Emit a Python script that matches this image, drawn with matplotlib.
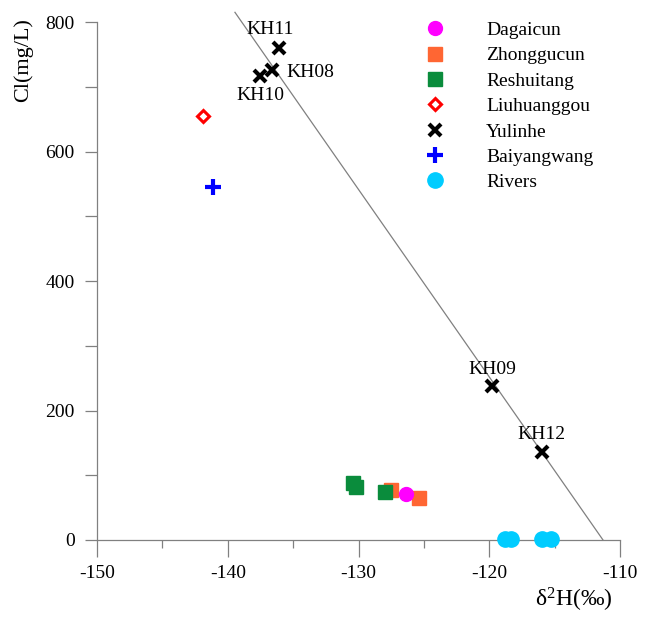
import matplotlib
matplotlib.use("Agg")
import matplotlib.pyplot as plt
from matplotlib.ticker import MultipleLocator

plt.rcParams['font.family'] = ['Liberation Serif', 'DejaVu Serif']
plt.rcParams['mathtext.fontset'] = 'custom'
plt.rcParams['mathtext.rm'] = 'Liberation Serif'
plt.rcParams['mathtext.it'] = 'Liberation Serif:italic'
plt.rcParams['axes.unicode_minus'] = False

# data: d2H (permil), Cl (mg/L)
dagaicun_x = [-126.4]
dagaicun_y = [71]
zhonggucun_x = [-127.5, -125.4]
zhonggucun_y = [77, 65]
reshuitang_x = [-130.4, -130.2, -128.0]
reshuitang_y = [88, 82, 74]
liuhuanggou_x = [-141.9]
liuhuanggou_y = [655]
yulinhe_x = [-136.1, -136.6, -137.5, -119.8, -116.0]
yulinhe_y = [760, 726, 717, 238, 136]
yulinhe_names = ['KH11', 'KH08', 'KH10', 'KH09', 'KH12']
baiyangwang_x = [-141.1]
baiyangwang_y = [545]
rivers_x = [-118.8, -118.3, -116.0, -115.3]
rivers_y = [1, 1, 1, 1]

# mixing line end points
line_x = [-139.45, -111.3]
line_y = [815, 0]

fig = plt.figure(figsize=(6.48, 6.17), dpi=100)
ax = fig.add_axes([0.1497, 0.1248, 0.8071, 0.8395])

ax.plot(line_x, line_y, color='#808080', lw=0.9, clip_on=False, zorder=1)

ax.plot(dagaicun_x, dagaicun_y, 'o', color='#FF00FF', ms=10, ls='none', label='Dagaicun', zorder=4)
ax.plot(zhonggucun_x, zhonggucun_y, 's', color='#FF6633', ms=9.5, ls='none', label='Zhonggucun', zorder=3)
ax.plot(reshuitang_x, reshuitang_y, 's', color='#0A8C3C', ms=9.5, ls='none', label='Reshuitang', zorder=3)
ax.plot(liuhuanggou_x, liuhuanggou_y, 'D', mfc='white', mec='#FF0000', mew=2.2, ms=6.5, ls='none',
        label='Liuhuanggou', zorder=3)
ax.plot(yulinhe_x, yulinhe_y, 'x', color='black', mew=3, ms=9, ls='none', label='Yulinhe', zorder=3)
ax.plot(baiyangwang_x, baiyangwang_y, '+', color='#0000FF', mew=3, ms=11, ls='none', label='Baiyangwang', zorder=3)
ax.plot(rivers_x, rivers_y, 'o', color='#00CCFF', ms=11, ls='none', label='Rivers', zorder=3, clip_on=False)

label_offsets = {'KH11': (-6, 13, 'center'), 'KH08': (10, -2, 'left'), 'KH10': (0, -14, 'center'),
                 'KH09': (0, 12, 'center'), 'KH12': (0, 12.5, 'center')}
for name, x, y in zip(yulinhe_names, yulinhe_x, yulinhe_y):
    dx, dy, ha = label_offsets[name]
    ax.annotate(name, (x, y), xytext=(dx, dy), textcoords='offset points',
                ha=ha, va='center', fontsize=14)

ax.set_xlim(-150, -110)
ax.set_ylim(0, 800)
ax.xaxis.set_major_locator(MultipleLocator(10))
ax.xaxis.set_minor_locator(MultipleLocator(5))
ax.yaxis.set_major_locator(MultipleLocator(200))
ax.yaxis.set_minor_locator(MultipleLocator(100))

for s in ['top', 'right']:
    ax.spines[s].set_visible(False)
for s in ['left', 'bottom']:
    ax.spines[s].set_color('#808080')
    ax.spines[s].set_linewidth(0.9)

ax.tick_params(axis='x', which='major', direction='out', length=12, width=0.9, color='#808080',
               labelsize=14, pad=6)
ax.tick_params(axis='x', which='minor', direction='out', length=6, width=0.9, color='#808080')
ax.tick_params(axis='y', which='both', direction='out', length=9, width=0.9, color='#808080',
               labelsize=14, pad=7)

fig.text(0.036, 0.902, 'Cl(mg/L)', rotation=90, ha='center', va='center', fontsize=16)
fig.text(0.886, 0.028, r'δ$^{\mathrm{2}}$H(‰)', ha='center', va='center', fontsize=17)

ax.legend(loc='upper left', bbox_to_anchor=(0.645, 0.978), bbox_transform=fig.transFigure,
          frameon=False, fontsize=14, handlelength=1.0, handletextpad=2.1,
          labelspacing=0.40, numpoints=1, borderaxespad=0)

fig.savefig('out.png', dpi=100)
